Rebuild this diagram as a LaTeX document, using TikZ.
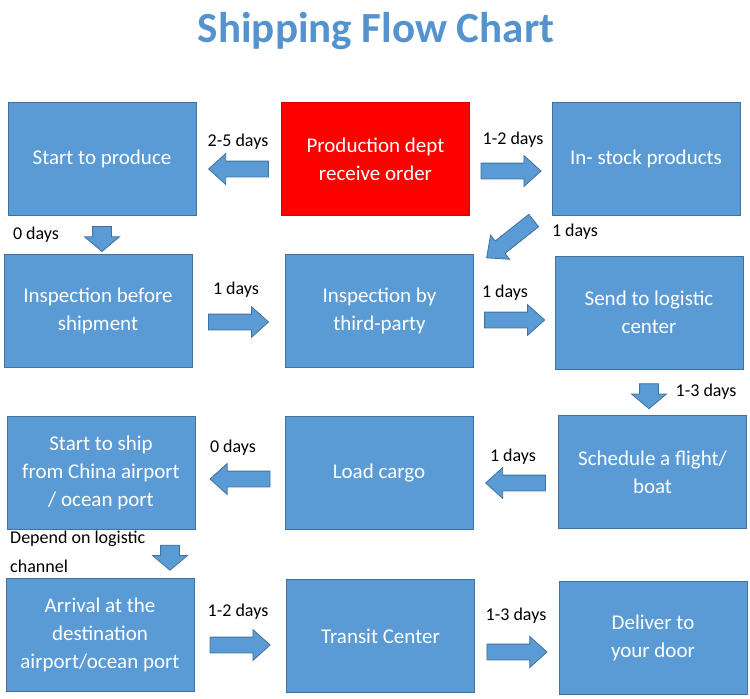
\documentclass[tikz,border=0pt]{standalone}
\usepackage{fontspec}
\setmainfont{Carlito}
\usepackage{xcolor}
\usetikzlibrary{shapes.arrows,positioning}
\definecolor{Sky}{HTML}{5B9BD5}
\definecolor{SkyEdge}{HTML}{41719C}
\definecolor{Heading}{HTML}{5593CE}
\definecolor{Alarm}{HTML}{FF0000}

\begin{document}
\begin{tikzpicture}[x=1pt,y=-1pt,
  stage/.style={draw=SkyEdge,line width=1pt,fill=Sky,text=white,align=center,minimum width=188pt,minimum height=113pt,inner sep=0pt,font=\fontsize{21}{28}\selectfont},
  hot/.style={stage,draw=Alarm!85!black,fill=Alarm},
  fat/.style={single arrow,draw=SkyEdge,line width=0.8pt,fill=Sky,minimum height=60pt,single arrow head extend=7.5pt,inner xsep=0pt,inner ysep=7.5pt,single arrow tip angle=84,sloped,allow upside down,pos=0.45},
  fatdown/.style={fat,minimum height=25pt,inner ysep=9pt,single arrow head extend=8pt,single arrow tip angle=100,pos=0.5},
  days/.style={font=\fontsize{18}{22}\selectfont,inner sep=0pt}
]
\useasboundingbox (0,0) rectangle (750,699);
\node[font=\fontsize{43}{48}\selectfont\bfseries,text=Heading] (title) at (376,31) {Shipping Flow Chart};
\node[stage] (produce) at (102,159) {Start to produce};
\node[hot] (order) at (375.5,159) {Production dept\\receive order};
\node[stage] (stock) at (646,159) {In- stock products};
\node[stage] (inspect) at (98,311) {Inspection before\\shipment};
\node[stage] (third) at (379.5,311) {Inspection by\\third-party};
\node[stage] (send) at (649,312.5) {Send to logistic\\center};
\node[stage] (ship) at (101,472.5) {Start to ship\\from China airport\\/ ocean port};
\node[stage] (load) at (379,473) {Load cargo};
\node[stage] (flight) at (652.5,472) {Schedule a flight/\\boat};
\node[stage] (arrive) at (100,635) {Arrival at the\\destination\\airport/ocean port};
\node[stage] (transit) at (380.5,636) {Transit Center};
\node[stage] (door) at (653,637.5) {Deliver to\\your door};
\node[days] (d1) at (238,142) {2-5 days};
\node[days] (d2) at (513,140) {1-2 days};
\node[days] (d3) at (36,235) {0 days};
\node[days] (d4) at (575,232) {1 days};
\node[days] (d5) at (236,290) {1 days};
\node[days] (d6) at (505,293) {1 days};
\node[days] (d7) at (706,392) {1-3 days};
\node[days] (d8) at (233,448) {0 days};
\node[days] (d9) at (513,457) {1 days};
\node[days,anchor=west,align=left,font=\fontsize{18}{29}\selectfont] (d10) at (10,552) {Depend on logistic\\channel};
\node[days] (d11) at (238,612) {1-2 days};
\node[days] (d12) at (516,616) {1-3 days};
\path ([yshift=-10pt]order.west) -- ([yshift=-10pt]order.west -| produce.east) node[fat] (a1) {};
\path ([yshift=-12pt]order.east) -- ([yshift=-12pt]order.east -| stock.west) node[fat] (a2) {};
\path (produce.south) -- (produce.south |- inspect.north) node[fatdown] (a3) {};
\path ([xshift=-12pt]stock.south west) -- ([xshift=8pt,yshift=-7.5pt]third.north east) node[fat] (a4) {};
\path ([yshift=-11pt]inspect.east) -- ([yshift=-11pt]inspect.east -| third.west) node[fat] (a5) {};
\path ([yshift=-9pt]third.east) -- ([yshift=-9pt]third.east -| send.west) node[fat] (a6) {};
\path (send.south) -- (send.south |- flight.north) node[fatdown] (a7) {};
\path ([yshift=-11pt]flight.west) -- ([yshift=-11pt]flight.west -| load.east) node[fat] (a8) {};
\path ([yshift=-6pt]load.west) -- ([yshift=-6pt]load.west -| ship.east) node[fat] (a9) {};
\path ([xshift=69pt]ship.south) -- ([xshift=69pt]ship.south |- arrive.north) node[fatdown] (a10) {};
\path ([yshift=-10pt]arrive.east) -- ([yshift=-10pt]arrive.east -| transit.west) node[fat] (a11) {};
\path ([yshift=-16pt]transit.east) -- ([yshift=-16pt]transit.east -| door.west) node[fat] (a12) {};
\end{tikzpicture}
\end{document}
